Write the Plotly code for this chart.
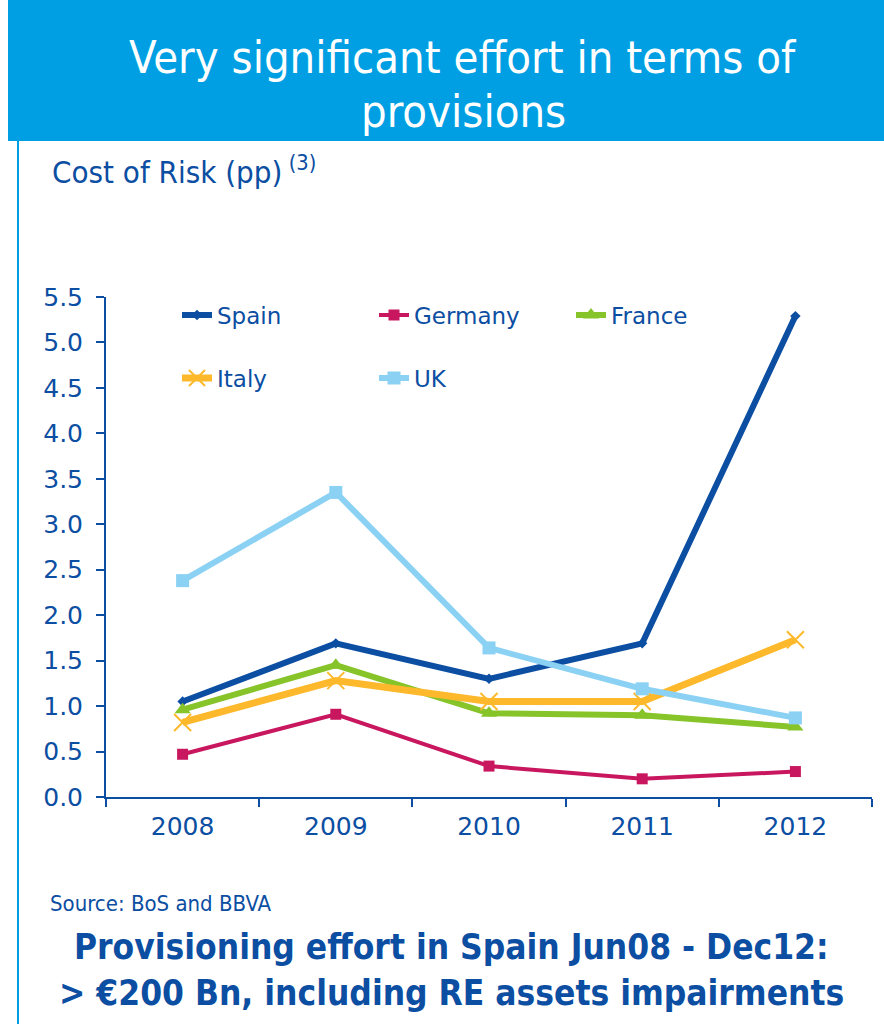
import plotly.graph_objects as go

# Cost of risk (percentage points) by country and year
years = ["2008", "2009", "2010", "2011", "2012"]
spain = [1.05, 1.69, 1.30, 1.69, 5.29]
germany = [0.47, 0.91, 0.34, 0.20, 0.28]
france = [0.96, 1.45, 0.92, 0.90, 0.77]
italy = [0.82, 1.28, 1.05, 1.05, 1.73]
uk = [2.38, 3.35, 1.64, 1.19, 0.87]
y_ticks = [0.0, 0.5, 1.0, 1.5, 2.0, 2.5, 3.0, 3.5, 4.0, 4.5, 5.0, 5.5]

W, H = 884, 1024
L, R, T, B = 106, 12, 297, 227
PW, PH = W - L - R, H - T - B

NAVY = "#0B4EA2"
CYAN = "#009FE3"
FONT = "DejaVu Sans"
COND = "DejaVu Sans Condensed"


def px(x):
    return (x - L) / PW


def py(y):
    return (H - B - y) / PH


series = [
    ("Spain", spain, "#0B4EA2", 6, dict(symbol="diamond", size=8), "legend"),
    ("Germany", germany, "#C8175E", 4, dict(symbol="square", size=11), "legend"),
    ("France", france, "#86C42A", 6, dict(symbol="triangle-up", size=14), "legend"),
    ("Italy", italy, "#FDB92B", 7, dict(symbol="x-thin", size=17,
                                          line=dict(width=2, color="#FDB92B")), "legend2"),
    ("UK", uk, "#8BD1F3", 6, dict(symbol="square", size=13), "legend2"),
]

fig = go.Figure()
for name, vals, color, width, marker, leg in series:
    fig.add_trace(go.Scatter(
        x=years, y=vals, name=name, mode="lines+markers",
        line=dict(color=color, width=width),
        marker=dict(color=color, **marker),
        legend=leg,
    ))

legend_common = dict(
    orientation="h", xanchor="left", yanchor="middle",
    font=dict(family=FONT, size=23, color=NAVY),
    bgcolor="rgba(0,0,0,0)", entrywidth=152, entrywidthmode="pixels",
    itemwidth=30,
)

fig.update_layout(
    width=W, height=H,
    margin=dict(l=L, r=R, t=T, b=B, pad=0),
    paper_bgcolor="white", plot_bgcolor="white",
    showlegend=True,
    legend=dict(x=px(177), y=py(315), **legend_common),
    legend2=dict(x=px(177), y=py(378), **legend_common),
    xaxis=dict(
        type="category", range=[-0.5, 4.5], tickson="boundaries",
        showline=True, linecolor=NAVY, linewidth=2,
        ticks="outside", ticklen=8, tickwidth=2, tickcolor=NAVY,
        ticklabelstandoff=6,
        showgrid=False, zeroline=False,
        tickfont=dict(family=FONT, size=25, color=NAVY),
    ),
    yaxis=dict(
        range=[0, 5.5], tickmode="array", tickvals=y_ticks,
        ticktext=[f"{v:.1f}" for v in y_ticks],
        showline=True, linecolor=NAVY, linewidth=2,
        ticks="outside", ticklen=8, tickwidth=2, tickcolor=NAVY,
        ticklabelstandoff=8,
        showgrid=False, zeroline=False,
        tickfont=dict(family=FONT, size=25, color=NAVY),
    ),
    shapes=[
        dict(type="rect", xref="paper", yref="paper",
             x0=px(8), x1=px(W), y0=py(141), y1=py(0),
             fillcolor=CYAN, line=dict(width=0), layer="below"),
        dict(type="line", xref="paper", yref="paper",
             x0=px(18), x1=px(18), y0=py(141), y1=py(H),
             line=dict(color=CYAN, width=2)),
    ],
    annotations=[
        dict(xref="paper", yref="paper", x=px(463), y=py(57),
             text="Very significant effort in terms of",
             showarrow=False, xanchor="center", yanchor="middle",
             font=dict(family=COND, size=45, color="white")),
        dict(xref="paper", yref="paper", x=px(463), y=py(112),
             text="provisions",
             showarrow=False, xanchor="center", yanchor="middle",
             font=dict(family=COND, size=45, color="white")),
        dict(xref="paper", yref="paper", x=px(50), y=py(170),
             text="Cost of Risk (pp)<sup> (3)</sup>",
             showarrow=False, xanchor="left", yanchor="middle",
             font=dict(family=COND, size=31, color=NAVY)),
        dict(xref="paper", yref="paper", x=px(48), y=py(903),
             text="Source: BoS and BBVA",
             showarrow=False, xanchor="left", yanchor="middle",
             font=dict(family=COND, size=22, color=NAVY)),
        dict(xref="paper", yref="paper", x=px(451), y=py(947),
             text="<b>Provisioning effort in Spain Jun08 - Dec12:</b>",
             showarrow=False, xanchor="center", yanchor="middle",
             font=dict(family=COND, size=35, color=NAVY)),
        dict(xref="paper", yref="paper", x=px(451), y=py(993),
             text="<b>> €200 Bn, including RE assets impairments</b>",
             showarrow=False, xanchor="center", yanchor="middle",
             font=dict(family=COND, size=35, color=NAVY)),
    ],
)

fig.write_html("out.html")
